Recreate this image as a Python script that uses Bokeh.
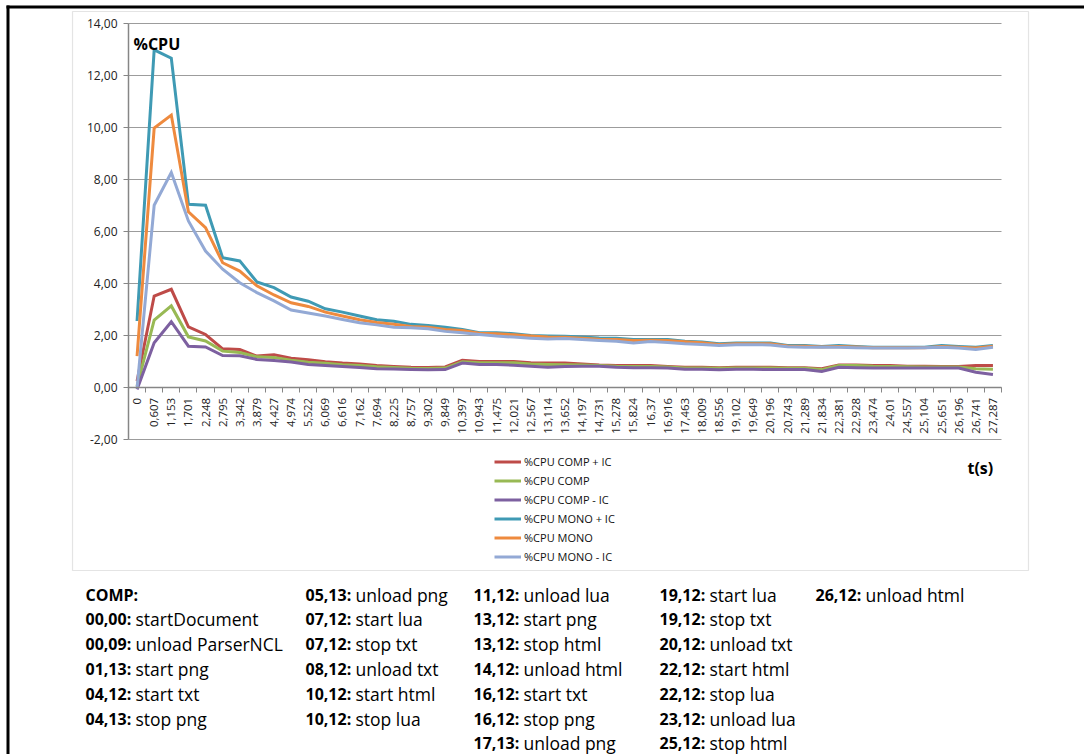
import math
from bokeh.plotting import figure
from bokeh.models import (Range1d, FixedTicker, Legend, LegendItem, Label, BoxAnnotation)
from bokeh.embed import file_html
from bokeh.resources import INLINE

# ---------------- data ----------------
times = ["0", "0,607", "1,153", "1,701", "2,248", "2,795", "3,342", "3,879", "4,427",
         "4,974", "5,522", "6,069", "6,616", "7,162", "7,694", "8,225", "8,757", "9,302",
         "9,849", "10,397", "10,943", "11,475", "12,021", "12,567", "13,114", "13,652",
         "14,197", "14,731", "15,278", "15,824", "16,37", "16,916", "17,463", "18,009",
         "18,556", "19,102", "19,649", "20,196", "20,743", "21,289", "21,834", "22,381",
         "22,928", "23,474", "24,01", "24,557", "25,104", "25,651", "26,196", "26,741",
         "27,287"]

cpu_comp_plus_ic = [0.26, 3.53, 3.79, 2.34, 2.05, 1.50, 1.47, 1.22, 1.27, 1.14, 1.08, 1.00,
                    0.95, 0.92, 0.86, 0.82, 0.79, 0.78, 0.80, 1.06, 1.01, 1.01, 1.01, 0.96,
                    0.95, 0.95, 0.92, 0.88, 0.86, 0.86, 0.86, 0.82, 0.79, 0.79, 0.77, 0.79,
                    0.79, 0.79, 0.77, 0.77, 0.73, 0.88, 0.88, 0.86, 0.86, 0.83, 0.83, 0.82,
                    0.82, 0.86, 0.86]
cpu_comp = [0.06, 2.60, 3.15, 1.96, 1.80, 1.41, 1.36, 1.19, 1.17, 1.06, 0.98, 0.94,
            0.89, 0.86, 0.81, 0.78, 0.75, 0.74, 0.76, 1.00, 0.96, 0.96, 0.96, 0.92,
            0.90, 0.89, 0.88, 0.86, 0.83, 0.82, 0.82, 0.80, 0.76, 0.76, 0.75, 0.76,
            0.76, 0.76, 0.75, 0.75, 0.70, 0.86, 0.86, 0.83, 0.82, 0.81, 0.80, 0.80,
            0.80, 0.73, 0.71]
cpu_comp_minus_ic = [-0.06, 1.73, 2.54, 1.60, 1.57, 1.24, 1.23, 1.09, 1.05, 0.99, 0.90, 0.86,
                     0.82, 0.78, 0.73, 0.72, 0.70, 0.69, 0.70, 0.95, 0.90, 0.90, 0.87, 0.83,
                     0.79, 0.82, 0.83, 0.83, 0.79, 0.77, 0.77, 0.76, 0.71, 0.71, 0.69, 0.71,
                     0.71, 0.70, 0.70, 0.70, 0.63, 0.79, 0.77, 0.76, 0.76, 0.76, 0.76, 0.76,
                     0.76, 0.60, 0.51]
cpu_mono_plus_ic = [2.57, 13.00, 12.68, 7.06, 7.02, 5.00, 4.88, 4.07, 3.85, 3.49, 3.33, 3.04,
                    2.91, 2.76, 2.62, 2.56, 2.44, 2.40, 2.33, 2.24, 2.12, 2.12, 2.08, 2.01,
                    1.99, 1.98, 1.95, 1.92, 1.91, 1.86, 1.86, 1.86, 1.79, 1.76, 1.69, 1.72,
                    1.72, 1.72, 1.63, 1.63, 1.59, 1.63, 1.59, 1.56, 1.56, 1.56, 1.56, 1.63,
                    1.59, 1.56, 1.63]
cpu_mono = [1.22, 9.99, 10.49, 6.77, 6.16, 4.81, 4.49, 3.92, 3.57, 3.27, 3.13, 2.91,
            2.76, 2.62, 2.51, 2.44, 2.36, 2.33, 2.24, 2.20, 2.10, 2.08, 2.04, 1.99,
            1.95, 1.94, 1.91, 1.87, 1.86, 1.82, 1.83, 1.82, 1.77, 1.73, 1.67, 1.69,
            1.69, 1.69, 1.61, 1.60, 1.57, 1.59, 1.57, 1.54, 1.54, 1.54, 1.54, 1.59,
            1.56, 1.53, 1.60]
cpu_mono_minus_ic = [-0.02, 7.02, 8.28, 6.42, 5.26, 4.56, 4.04, 3.66, 3.34, 2.99, 2.88, 2.76,
                     2.63, 2.50, 2.42, 2.33, 2.31, 2.27, 2.17, 2.12, 2.05, 1.99, 1.95, 1.91,
                     1.88, 1.90, 1.86, 1.82, 1.79, 1.72, 1.78, 1.74, 1.69, 1.67, 1.63, 1.66,
                     1.66, 1.65, 1.58, 1.56, 1.56, 1.56, 1.54, 1.53, 1.53, 1.53, 1.54, 1.56,
                     1.53, 1.47, 1.56]

series_names = ["%CPU COMP + IC", "%CPU COMP", "%CPU COMP - IC",
                "%CPU MONO + IC", "%CPU MONO", "%CPU MONO - IC"]
series_values = [cpu_comp_plus_ic, cpu_comp, cpu_comp_minus_ic,
                 cpu_mono_plus_ic, cpu_mono, cpu_mono_minus_ic]
series_colors = ["#BE4B48", "#98B954", "#7D60A0", "#3F9AB4", "#EE8A3E", "#93A9D5"]

y_ticks = [-2, 0, 2, 4, 6, 8, 10, 12, 14]

note_columns = [
    [("COMP:", ""), ("00,00:", "startDocument"), ("00,09:", "unload ParserNCL"),
     ("01,13:", "start png"), ("04,12:", "start txt"), ("04,13:", "stop png")],
    [("05,13:", "unload png"), ("07,12:", "start lua"), ("07,12:", "stop txt"),
     ("08,12:", "unload txt"), ("10,12:", "start html"), ("10,12:", "stop lua")],
    [("11,12:", "unload lua"), ("13,12:", "start png"), ("13,12:", "stop html"),
     ("14,12:", "unload html"), ("16,12:", "start txt"), ("16,12:", "stop png"),
     ("17,13:", "unload png")],
    [("19,12:", "start lua"), ("19,12:", "stop txt"), ("20,12:", "unload txt"),
     ("22,12:", "start html"), ("22,12:", "stop lua"), ("23,12:", "unload lua"),
     ("25,12:", "stop html")],
    [("26,12:", "unload html")],
]

# ---------------- geometry (canvas pixels) ----------------
W, H = 1084, 754
PX0, PX1 = 128.0, 1001.0        # left / right edge of the plot area
PY_TOP, PY_BOT = 23.3, 439.3     # pixel rows of y = 14 and y = -2
YMIN, YMAX = -2, 14
N = len(times)
ux = (PX1 - PX0) / N             # pixels per category
uy = (PY_BOT - PY_TOP) / (YMAX - YMIN)

x_start = -0.5 - PX0 / ux
x_end = N - 0.5 + (W - PX1) / ux
y_end = YMAX + PY_TOP / uy
y_start = YMIN - (H - PY_BOT) / uy

FONT = "Open Sans"
GRID = "#9C9C9C"
AXIS = "#868686"


def dx(px):
    return x_start + px / ux


def dy(py):
    return y_end - py / uy


p = figure(width=W, height=H, title=None,
           x_range=Range1d(x_start, x_end), y_range=Range1d(y_start, y_end),
           output_backend="svg", toolbar_location=None,
           min_border=0, min_border_left=0, min_border_right=0,
           min_border_top=0, min_border_bottom=0)
p.outline_line_color = None
p.background_fill_color = "white"
p.border_fill_color = "white"

idx = list(range(N))

# grids
p.xgrid.visible = False
p.ygrid.ticker = FixedTicker(ticks=y_ticks)
p.ygrid.grid_line_color = GRID
p.ygrid.grid_line_width = 1
if "cross_bounds" in p.ygrid[0].properties():
    p.ygrid.cross_bounds = (-0.5, N - 0.5)
else:
    p.ygrid.visible = False
    p.segment(x0=[-0.5] * len(y_ticks), y0=y_ticks, x1=[N - 0.5] * len(y_ticks),
              y1=y_ticks, line_color=GRID, line_width=1)

# y axis
ya = p.yaxis[0]
ya.fixed_location = -0.5
ya.bounds = (YMIN, YMAX)
ya.ticker = FixedTicker(ticks=y_ticks)
ya.major_label_overrides = {t: f"{t:.2f}".replace(".", ",") for t in y_ticks}
ya.axis_line_color = AXIS
ya.axis_line_width = 1.5
ya.major_tick_line_color = AXIS
ya.major_tick_out = 5
ya.major_tick_in = 0
ya.minor_tick_line_color = None
ya.major_label_standoff = 6
ya.major_label_text_font = FONT
ya.major_label_text_font_size = "12px"
ya.major_label_text_color = "#222222"

# x axis at y = 0, category labels at centres, ticks between categories
xa = p.xaxis[0]
xa.fixed_location = 0
xa.bounds = (-0.5, N - 0.5)
xa.ticker = FixedTicker(ticks=idx, minor_ticks=[i - 0.5 for i in range(N + 1)])
xa.major_label_overrides = {i: t for i, t in enumerate(times)}
xa.axis_line_color = AXIS
xa.axis_line_width = 1.5
xa.major_tick_out = 0
xa.major_tick_in = 0
xa.minor_tick_line_color = AXIS
xa.minor_tick_out = 5
xa.minor_tick_in = 0
xa.major_label_orientation = math.pi / 2
xa.major_label_standoff = 5
xa.major_label_text_font = FONT
xa.major_label_text_font_size = "11.5px"
xa.major_label_text_color = "#222222"

# series
renderers = []
for name, vals, col in zip(series_names, series_values, series_colors):
    r = p.line(x=idx, y=vals, line_color=col, line_width=3, line_join="miter")
    renderers.append(r)

legend = Legend(items=[LegendItem(label=n, renderers=[r]) for n, r in zip(series_names, renderers)],
                location=(494, H - 566), orientation="vertical",
                glyph_width=27, glyph_height=19, label_height=19, spacing=0,
                padding=0, margin=0, label_standoff=3,
                border_line_color=None, background_fill_alpha=0,
                label_text_font=FONT, label_text_font_size="11px",
                label_text_color="#111111")
p.add_layout(legend)

# decorations: outer black frame (top + left) and gray chart box
p.add_layout(BoxAnnotation(left=dx(6), right=dx(W), top=dy(5), bottom=dy(8),
                           fill_color="black", fill_alpha=1, line_color=None))
p.add_layout(BoxAnnotation(left=dx(6), right=dx(9), top=dy(5), bottom=dy(H),
                           fill_color="black", fill_alpha=1, line_color=None))
p.add_layout(BoxAnnotation(left=dx(72), right=dx(1028), top=dy(11), bottom=dy(570),
                           fill_alpha=0, line_color="#A6A6A6", line_width=1.2))

# axis titles
p.add_layout(Label(x=dx(133), y=dy(43), text="%CPU", text_font=FONT,
                   text_font_style="bold", text_font_size="16px",
                   text_baseline="alphabetic", text_color="black"))
p.add_layout(Label(x=dx(967), y=dy(467), text="t(s)", text_font=FONT,
                   text_font_style="bold", text_font_size="16px",
                   text_baseline="alphabetic", text_color="black"))

# notes below the chart
col_x = [85, 305, 473, 659, 815]
row_base = 594
row_step = 24.8
for cx, entries in zip(col_x, note_columns):
    for i, (bold, normal) in enumerate(entries):
        yb = row_base + i * row_step
        p.add_layout(Label(x=dx(cx), y=dy(yb), text=bold, text_font=FONT,
                           text_font_style="bold", text_font_size="16px",
                           text_baseline="alphabetic", text_color="black"))
        if normal:
            p.add_layout(Label(x=dx(cx + 50), y=dy(yb), text=normal, text_font=FONT,
                               text_font_size="17.5px", text_baseline="alphabetic",
                               text_color="black"))

open("out.html", "w").write(file_html(p, INLINE))
